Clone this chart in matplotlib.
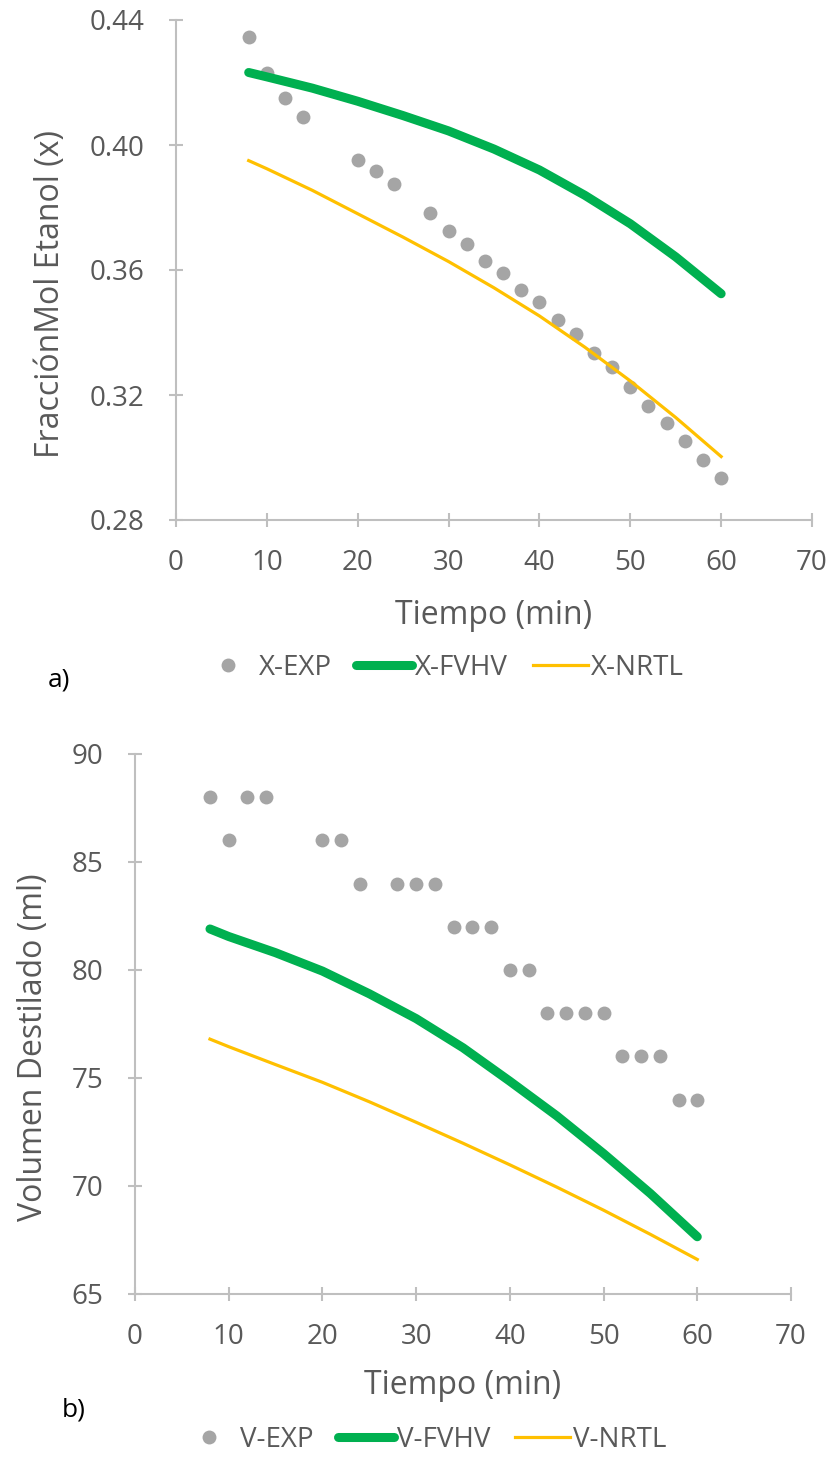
import matplotlib
matplotlib.use("Agg")
import matplotlib.pyplot as plt

plt.rcParams["font.family"] = ["Open Sans", "DejaVu Sans"]

# ---------------------------------------------------------------- datos
tiempo_exp = [8, 10, 12, 14, 20, 22, 24, 28, 30, 32, 34, 36, 38, 40,
              42, 44, 46, 48, 50, 52, 54, 56, 58, 60]

x_exp = [0.4347, 0.4230, 0.4152, 0.4089, 0.3953, 0.3916, 0.3875, 0.3783,
         0.3726, 0.3684, 0.3630, 0.3589, 0.3535, 0.3499, 0.3440, 0.3396,
         0.3334, 0.3289, 0.3225, 0.3166, 0.3111, 0.3054, 0.2992, 0.2933]

v_exp = [88, 86, 88, 88, 86, 86, 84, 84, 84, 84, 82, 82, 82, 80,
         80, 78, 78, 78, 78, 76, 76, 76, 74, 74]

tiempo_mod = [8, 10, 15, 20, 25, 30, 35, 40, 45, 50, 55, 60]

x_fvhv = [0.4232, 0.4218, 0.4182, 0.4140, 0.4094, 0.4045, 0.3987, 0.3920,
          0.3839, 0.3748, 0.3642, 0.3524]
x_nrtl = [0.3950, 0.3924, 0.3855, 0.3780, 0.3705, 0.3627, 0.3543, 0.3453,
          0.3353, 0.3245, 0.3128, 0.3003]

v_fvhv = [81.90, 81.55, 80.80, 79.95, 78.90, 77.75, 76.40, 74.85,
          73.25, 71.50, 69.65, 67.65]
v_nrtl = [76.80, 76.45, 75.62, 74.80, 73.90, 72.95, 71.98, 70.98,
          69.95, 68.88, 67.76, 66.60]

x_ticks_y = [0.28, 0.32, 0.36, 0.40, 0.44]
v_ticks_y = [65, 70, 75, 80, 85, 90]
t_ticks = [0, 10, 20, 30, 40, 50, 60, 70]

GRIS = "#A5A5A5"
VERDE = "#00B050"
AMARILLO = "#FFC000"
EJE = "#BFBFBF"
TEXTO = "#595959"

W, H = 833, 1459


def caja(left, top, right, bottom):
    """Posición de un eje en píxeles -> fracción de figura."""
    return [left / W, 1 - bottom / H, (right - left) / W, (bottom - top) / H]


def estilo(ax, yticks, fmt, ylabel, xl_y, yl_x, yl_y):
    ax.set_xlim(0, 70)
    ax.set_ylim(yticks[0], yticks[-1])
    ax.set_xticks(t_ticks)
    ax.set_yticks(yticks)
    ax.set_yticklabels([fmt.format(v) for v in yticks])
    for s in ("top", "right"):
        ax.spines[s].set_visible(False)
    for s in ("left", "bottom"):
        ax.spines[s].set_color(EJE)
        ax.spines[s].set_linewidth(1.5)
    ax.tick_params(direction="inout", length=10, width=1.5, color=EJE,
                   labelcolor=TEXTO, labelsize=20)
    ax.tick_params(axis="y", pad=18)
    ax.tick_params(axis="x", pad=16)
    ax.set_xlabel("Tiempo (min)", fontsize=23, color=TEXTO)
    ax.set_ylabel(ylabel, fontsize=23, color=TEXTO)
    ax.xaxis.set_label_coords(0.5, xl_y)
    ax.yaxis.set_label_coords(yl_x, yl_y)
    ax.xaxis.label.set_va("center")
    ax.yaxis.label.set_va("center")


def series(ax, exp, fvhv, nrtl, pref):
    ax.plot(tiempo_exp, exp, "o", color=GRIS, ms=10, mec="none",
            label=f"{pref}-EXP", clip_on=False)
    ax.plot(tiempo_mod, fvhv, color=VERDE, lw=6.5, solid_capstyle="round",
            solid_joinstyle="round", label=f"{pref}-FVHV", clip_on=False)
    ax.plot(tiempo_mod, nrtl, color=AMARILLO, lw=2.3,
            solid_joinstyle="round", label=f"{pref}-NRTL", clip_on=False)


def leyenda(ax, cx, cy):
    ax.legend(loc="center", bbox_to_anchor=(cx / W, 1 - cy / H),
              bbox_transform=fig.transFigure, ncol=3, frameon=False,
              fontsize=20, labelcolor=TEXTO, handlelength=2.0,
              handletextpad=0.1, columnspacing=0.9)


fig = plt.figure(figsize=(W / 100, H / 100), dpi=100)

# ----------------------------------------------------------- a) fracción
ax1 = fig.add_axes(caja(176, 20, 812, 520))
series(ax1, x_exp, x_fvhv, x_nrtl, "X")
estilo(ax1, x_ticks_y, "{:.2f}", "FracciónMol Etanol (x)",
       -0.192, -0.198, 0.452)
leyenda(ax1, 442, 668)
fig.text(48 / W, 1 - 680 / H, "a)", fontsize=19, color="black",
         va="center", ha="left")

# ------------------------------------------------------------ b) volumen
ax2 = fig.add_axes(caja(135, 754, 791, 1294))
series(ax2, v_exp, v_fvhv, v_nrtl, "V")
estilo(ax2, v_ticks_y, "{:d}", "Volumen Destilado (ml)",
       -0.170, -0.155, 0.457)
leyenda(ax2, 424, 1440)
fig.text(62 / W, 1 - 1410 / H, "b)", fontsize=19, color="black",
         va="center", ha="left")

fig.savefig("out.png", dpi=100, facecolor="white")
